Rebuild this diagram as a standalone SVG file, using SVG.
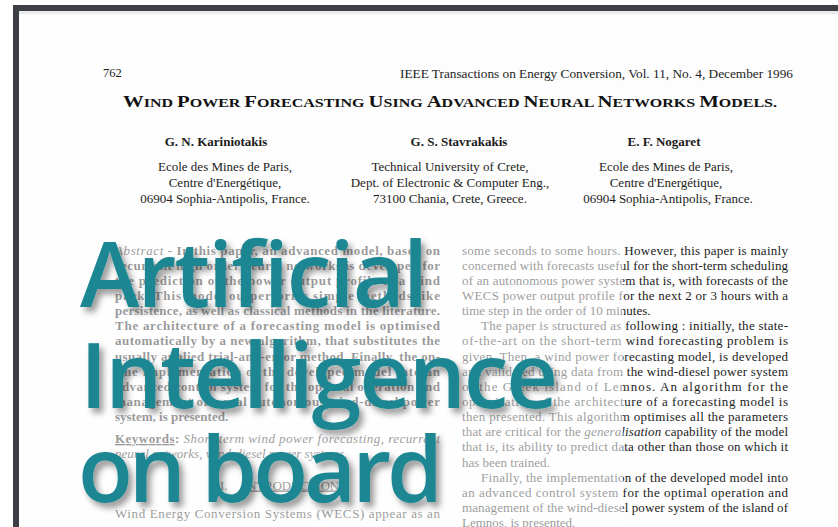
<svg xmlns="http://www.w3.org/2000/svg" width="838" height="527" viewBox="0 0 838 527">
<style>
.body{font-family:"Liberation Serif","Times New Roman",serif;font-size:13px;fill:#1c1c1c}
.b{font-weight:bold}
.i{font-style:italic}
.hdr{font-family:"Liberation Serif","Times New Roman",serif;font-size:12.5px;fill:#1c1c1c}
.ttl{font-family:"Liberation Serif","Times New Roman",serif;font-weight:bold;fill:#111}
.big{font-family:"Open Sans","Noto Sans",sans-serif;font-weight:650;font-size:90px;fill:#1b8792}
</style>
<defs>
<filter id="sh" x="-10%" y="-20%" width="130%" height="150%">
<feDropShadow dx="4" dy="5" stdDeviation="3" flood-color="#000" flood-opacity="0.4"/>
</filter>
</defs>
<rect x="0" y="0" width="838" height="527" fill="#ffffff"/>
<rect x="19" y="11" width="819" height="516" fill="#fdfdfd"/>
<rect x="13" y="5" width="825" height="6" fill="#3c3f43"/>
<rect x="13" y="5" width="6" height="522" fill="#3c3f43"/>
<rect x="19" y="11" width="819" height="3" fill="#d8d8d8" opacity="0.5"/>

<text class="hdr" x="103" y="77">762</text>
<text class="hdr" x="400" y="78" textLength="393" lengthAdjust="spacingAndGlyphs">IEEE Transactions on Energy Conversion, Vol. 11, No. 4, December 1996</text>
<text class="ttl" x="123" y="107" textLength="654" lengthAdjust="spacingAndGlyphs"><tspan font-size="17.5">W</tspan><tspan font-size="13.5">IND </tspan><tspan font-size="17.5">P</tspan><tspan font-size="13.5">OWER </tspan><tspan font-size="17.5">F</tspan><tspan font-size="13.5">ORECASTING </tspan><tspan font-size="17.5">U</tspan><tspan font-size="13.5">SING </tspan><tspan font-size="17.5">A</tspan><tspan font-size="13.5">DVANCED </tspan><tspan font-size="17.5">N</tspan><tspan font-size="13.5">EURAL </tspan><tspan font-size="17.5">N</tspan><tspan font-size="13.5">ETWORKS </tspan><tspan font-size="17.5">M</tspan><tspan font-size="13.5">ODELS.</tspan></text>

<g class="body" text-anchor="middle">
<text class="b" x="216" y="146">G. N. Kariniotakis</text>
<text x="225" y="171">Ecole des Mines de Paris,</text>
<text x="225" y="187">Centre d'Energétique,</text>
<text x="225" y="203">06904 Sophia-Antipolis, France.</text>
<text class="b" x="459" y="146">G. S. Stavrakakis</text>
<text x="450" y="171">Technical University of Crete,</text>
<text x="450" y="187">Dept. of Electronic &amp; Computer Eng.,</text>
<text x="450" y="203">73100 Chania, Crete, Greece.</text>
<text class="b" x="664" y="146">E. F. Nogaret</text>
<text x="666" y="171">Ecole des Mines de Paris,</text>
<text x="666" y="187">Centre d'Energétique,</text>
<text x="668" y="203">06904 Sophia-Antipolis, France.</text>
</g>

<g class="body">
<text x="115" y="254.5" textLength="325" lengthAdjust="spacing"><tspan class="i">Abstract</tspan><tspan class="b"> - In this paper, an advanced model, based on</tspan></text>
<g class="b">
<text x="115" y="269.65" textLength="325" lengthAdjust="spacing">recurrent high order neural networks is developed for</text>
<text x="115" y="284.8" textLength="325" lengthAdjust="spacing">the prediction of the power output profile of a wind</text>
<text x="115" y="299.95" textLength="325" lengthAdjust="spacing">park. This model outperforms simple methods like</text>
<text x="115" y="315.1" textLength="325" lengthAdjust="spacing">persistence, as well as classical methods in the literature.</text>
<text x="115" y="330.25" textLength="325" lengthAdjust="spacing">The architecture of a forecasting model is optimised</text>
<text x="115" y="345.4" textLength="325" lengthAdjust="spacing">automatically by a new algorithm, that substitutes the</text>
<text x="115" y="360.55" textLength="325" lengthAdjust="spacing">usually applied trial-and-error method. Finally, the on-</text>
<text x="115" y="375.7" textLength="325" lengthAdjust="spacing">line implementation of the developed model into an</text>
<text x="115" y="390.85" textLength="325" lengthAdjust="spacing">advanced control system for the optimal operation and</text>
<text x="115" y="406" textLength="325" lengthAdjust="spacing">management of a real autonomous wind-diesel power</text>
<text x="115" y="421.15">system, is presented.</text>
</g>
<text x="115" y="443" textLength="325" lengthAdjust="spacing"><tspan class="b" text-decoration="underline">Keywords</tspan><tspan class="b">: </tspan><tspan class="i">Short-term wind power forecasting, recurrent</tspan></text>
<text class="i" x="115" y="458">neural networks, wind-diesel power systems.</text>
<text x="220" y="489.5">I.</text>
<text x="243" y="489.5" textLength="96" lengthAdjust="spacingAndGlyphs" text-decoration="underline">INTRODUCTION</text>
<text x="115" y="518" textLength="325" lengthAdjust="spacing">Wind Energy Conversion Systems (WECS) appear as an</text>

<text x="462" y="254.5" textLength="326" lengthAdjust="spacing">some seconds to some hours. However, this paper is mainly</text>
<text x="462" y="269.65" textLength="326" lengthAdjust="spacing">concerned with forecasts useful for the short-term scheduling</text>
<text x="462" y="284.8" textLength="326" lengthAdjust="spacing">of an autonomous power system that is, with forecasts of the</text>
<text x="462" y="299.95" textLength="326" lengthAdjust="spacing">WECS power output profile for the next 2 or 3 hours with a</text>
<text x="462" y="315.1">time step in the order of 10 minutes.</text>
<text x="481" y="330.25" textLength="307" lengthAdjust="spacing">The paper is structured as following : initially, the state-</text>
<text x="462" y="345.4" textLength="326" lengthAdjust="spacing">of-the-art on the short-term wind forecasting problem is</text>
<text x="462" y="360.55" textLength="326" lengthAdjust="spacing">given. Then, a wind power forecasting model, is developed</text>
<text x="462" y="375.7" textLength="326" lengthAdjust="spacing">and validated using data from the wind-diesel power system</text>
<text x="462" y="390.85" textLength="326" lengthAdjust="spacing">of the Greek island of Lemnos. An algorithm for the</text>
<text x="462" y="406" textLength="326" lengthAdjust="spacing">optimisation of the architecture of a forecasting model is</text>
<text x="462" y="421.15" textLength="326" lengthAdjust="spacing">then presented. This algorithm optimises all the parameters</text>
<text x="462" y="436.3" textLength="326" lengthAdjust="spacing">that are critical for the <tspan class="i">generalisation</tspan> capability of the model</text>
<text x="462" y="451.45" textLength="326" lengthAdjust="spacing">that is, its ability to predict data other than those on which it</text>
<text x="462" y="466.6">has been trained.</text>
<text x="481" y="481.75" textLength="307" lengthAdjust="spacing">Finally, the implementation of the developed model into</text>
<text x="462" y="496.9" textLength="326" lengthAdjust="spacing">an advanced control system for the optimal operation and</text>
<text x="462" y="512.05" textLength="326" lengthAdjust="spacing">management of the wind-diesel power system of the island of</text>
<text x="462" y="526.5">Lemnos, is presented.</text>
</g>

<rect x="19" y="232" width="604" height="295" fill="#ffffff" opacity="0.55"/>

<g filter="url(#sh)">
<text class="big" x="80" y="307" textLength="348" lengthAdjust="spacing">Artificial</text>
<text class="big" x="80" y="408" textLength="478" lengthAdjust="spacing">Intelligence</text>
<text class="big" x="78" y="502" textLength="365" lengthAdjust="spacing">on board</text>
</g>
</svg>
